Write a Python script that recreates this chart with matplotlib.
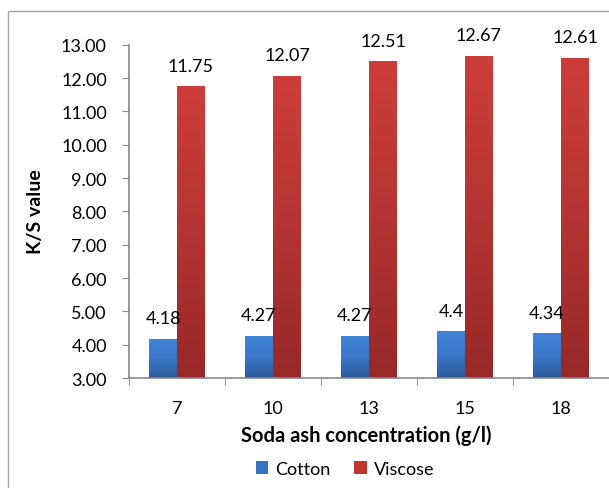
import matplotlib
matplotlib.use("Agg")
import matplotlib.pyplot as plt
import numpy as np
from matplotlib.patches import Patch
from matplotlib.lines import Line2D
from matplotlib.colors import LinearSegmentedColormap

categories = ["7", "10", "13", "15", "18"]
cotton = [4.18, 4.27, 4.27, 4.4, 4.34]
viscose = [11.75, 12.07, 12.51, 12.67, 12.61]
cotton_labels = ["4.18", "4.27", "4.27", "4.4", "4.34"]
viscose_labels = ["11.75", "12.07", "12.51", "12.67", "12.61"]
yticks = [3, 4, 5, 6, 7, 8, 9, 10, 11, 12, 13]

plt.rcParams['font.family'] = ['Lato', 'DejaVu Sans']

W, H = 609, 489
fig = plt.figure(figsize=(W / 100, H / 100), dpi=100)

# outer chart border (top and left visible; chart is cropped right/bottom)
fig.add_artist(Line2D([8 / W, 1.0], [1 - 12 / H, 1 - 12 / H], transform=fig.transFigure,
                      color="#a6a6a6", linewidth=1.0, solid_capstyle="butt"))
fig.add_artist(Line2D([8 / W, 8 / W], [0.0, 1 - 12 / H], transform=fig.transFigure,
                      color="#a6a6a6", linewidth=1.0, solid_capstyle="butt"))

ax = fig.add_axes([129 / W, 1 - 379 / H, 480 / W, (379 - 45.7) / H])
ax.set_facecolor("none")

x = np.arange(len(categories))
bw = 28 / 96
b1 = ax.bar(x - bw / 2, np.array(cotton) - 3, bw, bottom=3, color="#3a74c0", zorder=2)
b2 = ax.bar(x + bw / 2, np.array(viscose) - 3, bw, bottom=3, color="#bf3532", zorder=2)

blue_cm = LinearSegmentedColormap.from_list("b", ["#2c5a98", "#3b78c8", "#4083d4"])
red_cm = LinearSegmentedColormap.from_list("r", ["#982927", "#b33431", "#cd3e3b"])
grad = np.linspace(0, 1, 256).reshape(-1, 1)
for bars, cm in ((b1, blue_cm), (b2, red_cm)):
    for p in bars:
        x0, y0, w, h = p.get_x(), p.get_y(), p.get_width(), p.get_height()
        im = ax.imshow(grad, extent=[x0, x0 + w, y0, y0 + h], origin="lower", cmap=cm,
                       aspect="auto", zorder=3, interpolation="bilinear")
        im.set_clip_path(p)

for bars, labels in ((b1, cotton_labels), (b2, viscose_labels)):
    for p, lab in zip(bars, labels):
        ax.annotate(lab, (p.get_x() + p.get_width() / 2, p.get_y() + p.get_height()),
                    xytext=(0, 11), textcoords="offset points", ha="center", va="baseline",
                    fontsize=13, color="#000000", zorder=5)

ax.set_xlim(-0.5, len(categories) - 0.5)
ax.set_ylim(3, 13)
ax.set_yticks(yticks)
ax.set_yticklabels([f"{v:.2f}" for v in yticks], fontsize=13)
ax.set_xticks(x)
ax.set_xticklabels(categories, fontsize=13)
ax.set_xticks(np.arange(-0.5, len(categories) - 0.9, 1.0), minor=True)
ax.tick_params(axis="x", which="major", length=0, pad=16)
ax.tick_params(axis="x", which="minor", length=5, color="#868686", direction="out")
ax.tick_params(axis="y", length=5, color="#868686", direction="out", pad=11)

for s in ("top", "right"):
    ax.spines[s].set_visible(False)
for s in ("left", "bottom"):
    ax.spines[s].set_color("#868686")
    ax.spines[s].set_linewidth(1.2)
ax.spines["bottom"].set_zorder(6)

fig.text(35 / W, 1 - 212 / H, "K/S value", rotation=90, ha="center", va="center",
         fontsize=14, fontweight="bold")
fig.text(366 / W, 1 - 436 / H, "Soda ash concentration (g/l)", ha="center", va="center",
         fontsize=14.5, fontweight="bold")

handles = [Patch(facecolor="#3673c2", label="Cotton"), Patch(facecolor="#bf3532", label="Viscose")]
fig.legend(handles=handles, loc="center", bbox_to_anchor=(345 / W, 1 - 470 / H), ncol=2,
           frameon=False, fontsize=13, handlelength=0.7, handleheight=0.7, handletextpad=0.4,
           columnspacing=1.3)

fig.savefig("out.png", dpi=100)
